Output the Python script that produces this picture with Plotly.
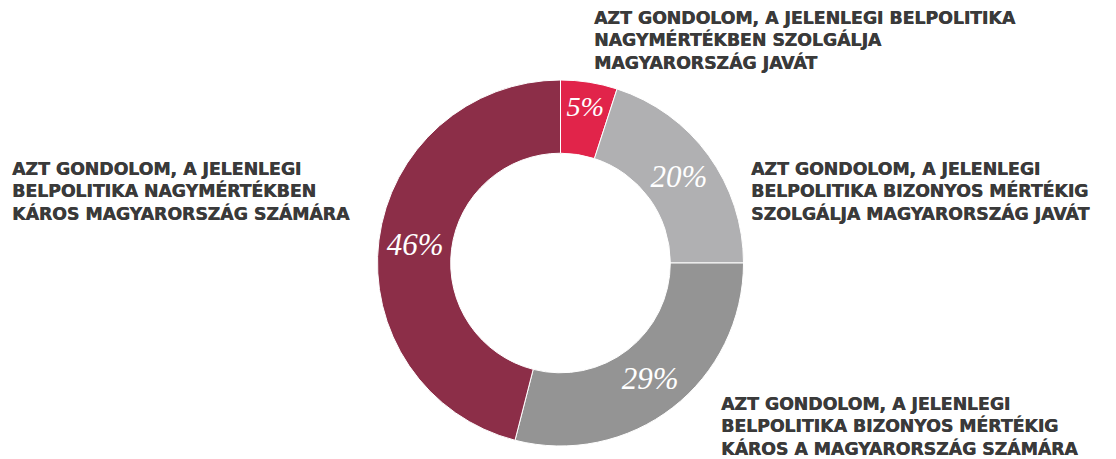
import plotly.graph_objects as go

W, H = 1116, 459

labels = [
    "AZT GONDOLOM, A JELENLEGI BELPOLITIKA<br>NAGYMÉRTÉKBEN SZOLGÁLJA<br>MAGYARORSZÁG JAVÁT",
    "AZT GONDOLOM, A JELENLEGI<br>BELPOLITIKA BIZONYOS MÉRTÉKIG<br>SZOLGÁLJA MAGYARORSZÁG JAVÁT",
    "AZT GONDOLOM, A JELENLEGI<br>BELPOLITIKA BIZONYOS MÉRTÉKIG<br>KÁROS A MAGYARORSZÁG SZÁMÁRA",
    "AZT GONDOLOM, A JELENLEGI<br>BELPOLITIKA NAGYMÉRTÉKBEN<br>KÁROS MAGYARORSZÁG SZÁMÁRA",
]
values = [5, 20, 29, 46]
colors = ["#E1244A", "#B0B0B2", "#949494", "#8C2E48"]

# label anchor positions (pixels: left x, top y)
label_pos = [(592, 6), (749, 157), (719, 392), (10, 157)]

# pie geometry in pixels
cx, cy, r = 560.5, 263, 183

fig = go.Figure(go.Pie(
    labels=[l.replace("<br>", " ") for l in labels],
    values=values,
    sort=False,
    direction="clockwise",
    rotation=0,
    hole=0.6,
    marker=dict(colors=colors, line=dict(color="white", width=1)),
    texttemplate="%{value}%",
    textposition="inside",
    insidetextorientation="horizontal",
    textfont=dict(family="Liberation Serif", size=31, color="white", style="italic"),
    hoverinfo="label+percent",
    domain=dict(x=[(cx - r) / W, (cx + r) / W], y=[(H - cy - r) / H, (H - cy + r) / H]),
    showlegend=False,
))

for lab, (px, py) in zip(labels, label_pos):
    fig.add_annotation(
        text=lab, x=px / W, y=1 - py / H, xref="paper", yref="paper",
        xanchor="left", yanchor="top", align="left", showarrow=False,
        font=dict(family="DejaVu Sans", size=17.3, color="#3A3A3A", weight="bold",
                  shadow="0.5px 0 0 #3A3A3A"),
    )

fig.update_layout(
    width=W, height=H,
    margin=dict(l=0, r=0, t=0, b=0),
    paper_bgcolor="white", plot_bgcolor="white",
)

fig.write_html("out.html", config={"displayModeBar": False},
               post_script="document.body.style.margin='0';")
